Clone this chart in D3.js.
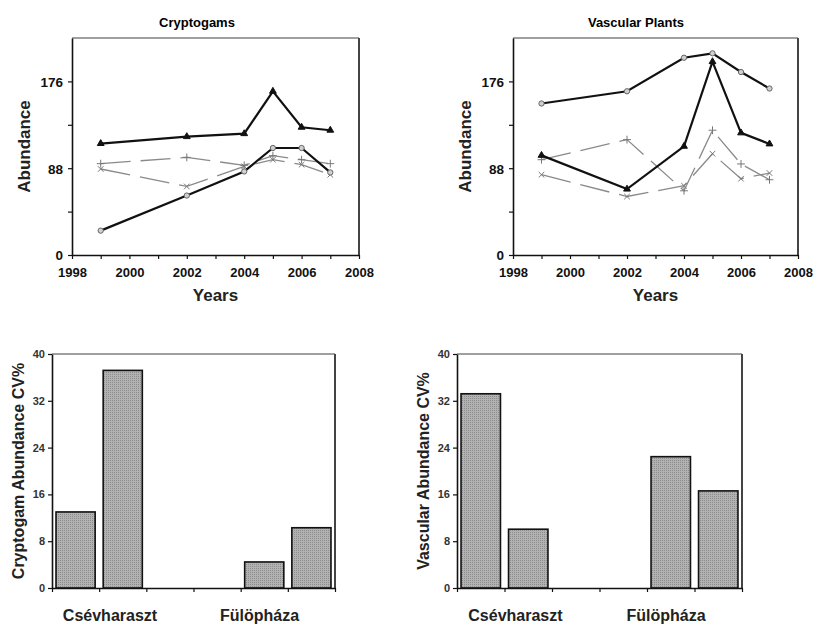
<!DOCTYPE html>
<html>
<head>
<meta charset="utf-8">
<script src="https://cdn.jsdelivr.net/npm/d3@7"></script>
<style>
  body { margin: 0; background: #fff; }
  text { font-family: Arial, "Liberation Sans", sans-serif; }
</style>
</head>
<body>
<div id="chart-area"></div>
<script>
// data
let years = [1999, 2002, 2004, 2005, 2006, 2007];
let cryptoTriangle = [113, 120, 123, 166, 129.5, 126.5];
let cryptoCircle = [24.7, 60.3, 84.7, 108.5, 108.5, 83.7];
let cryptoPlus = [92.6, 99, 90.9, 100.7, 96.6, 92.6];
let cryptoCross = [87.2, 69.5, 89.9, 96.6, 91.6, 81.4];
let vascCircle = [153.6, 166, 200, 204.5, 185.5, 168.8];
let vascTriangle = [101, 66.8, 110.2, 196, 123.8, 112.6];
let vascPlus = [96.6, 117, 65.1, 126.5, 92.3, 76.3];
let vascCross = [81.4, 59.3, 70.2, 102.7, 77.3, 83.1];

let yearTicks = [1998, 1999, 2000, 2001, 2002, 2003, 2004, 2005, 2006, 2007, 2008];
let abundanceTicks = [0, 44, 88, 132, 176];

let sites = ["Csévharaszt", "Fülöpháza"];
// 6 slots on the bar axis, two of them left empty between the sites
let slots = ["Csévharaszt A", "Csévharaszt B", "-1", "-2", "Fülöpháza A", "Fülöpháza B"];
let barSlots = ["Csévharaszt A", "Csévharaszt B", "Fülöpháza A", "Fülöpháza B"];
let cryptoCV = [13.0, 37.2, 4.45, 10.3];
let vascCV = [33.2, 10.05, 22.45, 16.6];
let cvTicks = [0, 8, 16, 24, 32, 40];

let svg = d3.select("#chart-area")
    .append("svg")
    .attr("width", 814)
    .attr("height", 624);

// dotted grey fill of the bars
let pat = svg.append("defs").append("pattern")
    .attr("id", "stipple")
    .attr("width", 2).attr("height", 2)
    .attr("patternUnits", "userSpaceOnUse");
pat.append("rect").attr("width", 2).attr("height", 2).attr("fill", "#b2b2b2");
pat.append("rect").attr("width", 1).attr("height", 1).attr("fill", "#8c8c8c");

function frame(x0, x1, y0, y1) {
    svg.append("line").attr("x1", x0).attr("x2", x1).attr("y1", y0).attr("y2", y0)
        .attr("stroke", "#808080").attr("stroke-width", 1.5);
    svg.append("line").attr("x1", x1).attr("x2", x1).attr("y1", y0).attr("y2", y1)
        .attr("stroke", "#444").attr("stroke-width", 2);
}

function styleAxis(ax, size, weight) {
    ax.select(".domain").attr("stroke", "#111").attr("stroke-width", 1.6);
    ax.selectAll(".tick line").attr("stroke", "#111").attr("stroke-width", 1.2);
    ax.selectAll(".tick text")
        .attr("font-size", size)
        .attr("font-weight", weight)
        .attr("fill", "#111");
}

function linePanel(p) {
    let x = d3.scaleLinear().domain([1998, 2008]).range([p.left, p.right]);
    let y = d3.scaleLinear().domain([0, 220]).range([p.bottom, p.top]);

    frame(p.left, p.right, p.top, p.bottom);

    let xAxisCall = d3.axisBottom(x)
        .tickValues(yearTicks)
        .tickFormat(d => d % 2 === 0 ? d : "")
        .tickSize(4).tickSizeOuter(0).tickPadding(9);
    let xa = svg.append("g")
        .attr("transform", "translate(0," + p.bottom + ")")
        .call(xAxisCall);
    styleAxis(xa, "13px", "bold");

    let yAxisCall = d3.axisLeft(y)
        .tickValues(abundanceTicks)
        .tickFormat(d => d % 88 === 0 ? d : "")
        .tickSize(4).tickSizeOuter(0).tickPadding(5);
    let ya = svg.append("g")
        .attr("transform", "translate(" + p.left + ",0)")
        .call(yAxisCall);
    styleAxis(ya, "13.5px", "bold");
    ya.selectAll(".tick text").attr("dy", "0.36em");

    svg.append("text")
        .attr("x", p.titleX).attr("y", 27)
        .attr("text-anchor", "middle")
        .attr("font-size", "13px").attr("font-weight", "bold")
        .text(p.title);
    svg.append("text")
        .attr("x", (p.left + p.right) / 2).attr("y", 301)
        .attr("text-anchor", "middle")
        .attr("font-size", "17px").attr("font-weight", "bold")
        .attr("fill", "#222")
        .text("Years");
    svg.append("text")
        .attr("transform", "translate(" + p.labelX + "," + (p.top + p.bottom) / 2 + ") rotate(-90)")
        .attr("text-anchor", "middle")
        .attr("font-size", "17px").attr("font-weight", "bold")
        .attr("fill", "#222")
        .text("Abundance");

    let line = d3.line()
        .x((d, i) => x(years[i]))
        .y(d => y(d));

    p.series.forEach(s => {
        svg.append("path")
            .datum(s.values)
            .attr("fill", "none")
            .attr("stroke", s.color)
            .attr("stroke-width", s.width)
            .attr("stroke-dasharray", s.dash)
            .attr("d", line);
        svg.selectAll(null)
            .data(s.values)
            .enter()
            .append("path")
            .attr("transform", (d, i) => "translate(" + x(years[i]) + "," + y(d) + ")")
            .attr("d", d3.symbol().type(s.symbol).size(s.size))
            .attr("fill", s.fill)
            .attr("stroke", s.mstroke)
            .attr("stroke-width", 1);
    });
}

let tri = {color: "#111", width: 2.2, dash: null, symbol: d3.symbolTriangle, size: 20, fill: "#111", mstroke: "#111"};
let circ = {color: "#111", width: 2.2, dash: null, symbol: d3.symbolCircle, size: 22, fill: "#d0d0d0", mstroke: "#666"};
let plus = {color: "#8a8a8a", width: 1.3, dash: "30,10", symbol: d3.symbolPlus, size: 22, fill: "none", mstroke: "#777"};
let cross = {color: "#8a8a8a", width: 1.3, dash: "30,10", symbol: d3.symbolTimes, size: 22, fill: "none", mstroke: "#777"};

linePanel({
    left: 72, right: 359, top: 38, bottom: 255,
    title: "Cryptogams", titleX: 197, labelX: 30,
    series: [
        Object.assign({values: cryptoPlus}, plus),
        Object.assign({values: cryptoCross}, cross),
        Object.assign({values: cryptoTriangle}, tri),
        Object.assign({values: cryptoCircle}, circ)
    ]
});
linePanel({
    left: 513, right: 798, top: 38, bottom: 255,
    title: "Vascular Plants", titleX: 636, labelX: 471,
    series: [
        Object.assign({values: vascPlus}, plus),
        Object.assign({values: vascCross}, cross),
        Object.assign({values: vascCircle}, circ),
        Object.assign({values: vascTriangle}, tri)
    ]
});

function barPanel(p) {
    let x = d3.scaleBand().domain(slots).range([p.left, p.right])
        .paddingInner(0.17).paddingOuter(0.085);
    let slotScale = d3.scaleLinear().domain([0, slots.length]).range([p.left, p.right]);
    let y = d3.scaleLinear().domain([0, 40]).range([p.bottom, p.top]);

    frame(p.left, p.right, p.top, p.bottom);

    svg.selectAll(null)
        .data(p.values)
        .enter()
        .append("rect")
        .attr("x", (d, i) => x(barSlots[i]))
        .attr("width", x.bandwidth())
        .attr("y", d => y(d))
        .attr("height", d => y(0) - y(d))
        .attr("fill", "url(#stipple)")
        .attr("stroke", "#111")
        .attr("stroke-width", 1.6);

    let xa = svg.append("g")
        .attr("transform", "translate(0," + p.bottom + ")")
        .call(d3.axisBottom(slotScale).ticks(slots.length).tickFormat("")
            .tickSize(4).tickSizeOuter(0));
    styleAxis(xa, "11px", "normal");

    let ya = svg.append("g")
        .attr("transform", "translate(" + p.left + ",0)")
        .call(d3.axisLeft(y).tickValues(cvTicks).tickSize(4).tickSizeOuter(0).tickPadding(3));
    styleAxis(ya, "11px", "bold");
    ya.selectAll(".tick text").attr("fill", "#333");

    // site labels under the slot axis
    [1.23, 4.4].forEach((pos, i) => {
        svg.append("text")
            .attr("x", slotScale(pos)).attr("y", 621)
            .attr("text-anchor", "middle")
            .attr("font-size", "16px").attr("font-weight", "bold")
            .attr("fill", "#222")
            .text(sites[i]);
    });

    svg.append("text")
        .attr("transform", "translate(" + p.labelX + "," + (p.top + p.bottom) / 2 + ") rotate(-90)")
        .attr("text-anchor", "middle")
        .attr("font-size", "16px").attr("font-weight", "bold")
        .attr("fill", "#222")
        .text(p.label);
}

barPanel({left: 52, right: 335, top: 354, bottom: 588, values: cryptoCV,
    label: "Cryptogam Abundance CV%", labelX: 24});
barPanel({left: 457, right: 742, top: 354, bottom: 588, values: vascCV,
    label: "Vascular Abundance CV%", labelX: 429});
</script>
</body>
</html>
